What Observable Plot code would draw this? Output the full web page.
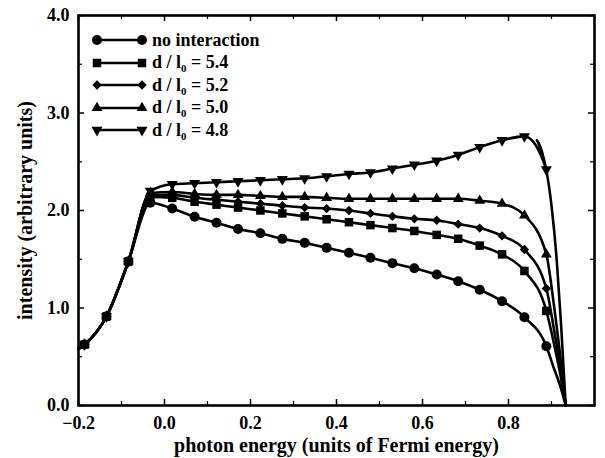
<!DOCTYPE html>
<html><head><meta charset="utf-8">
<script src="https://cdn.jsdelivr.net/npm/d3@7"></script>
<script src="https://cdn.jsdelivr.net/npm/@observablehq/plot@0.6"></script>
<style>
body{margin:0;background:#fff}
#wrap{position:relative;width:605px;height:458px;font-family:'Liberation Serif','Times New Roman',serif;font-weight:bold;color:#000}
#legend{position:absolute;left:91px;top:29px}
.row{display:flex;align-items:center;height:22.5px;font-size:18px;white-space:nowrap}
.row svg{margin-right:3px;flex:none}
.row sub{font-size:0.6em;vertical-align:-0.35em;line-height:0}
</style></head><body><div id="wrap"><div id="legend"></div></div>
<script>
// ---- data ----
const markerX = [-0.186,-0.135,-0.084,-0.033,0.018,0.07,0.121,0.171,0.223,0.274,0.326,0.377,0.429,0.479,0.53,0.581,0.633,0.683,0.733,0.785,0.837,0.888];
const yNone = [0.625,0.913,1.477,2.08,2.02,1.935,1.874,1.81,1.767,1.709,1.668,1.617,1.566,1.515,1.46,1.408,1.344,1.275,1.187,1.07,0.906,0.608];
const y54   = [0.625,0.913,1.477,2.14,2.13,2.09,2.06,2.03,2.00,1.97,1.94,1.91,1.88,1.85,1.82,1.79,1.75,1.71,1.64,1.55,1.38,0.97];
const y52   = [0.625,0.913,1.477,2.16,2.16,2.13,2.11,2.09,2.07,2.05,2.03,2.02,2.00,1.97,1.94,1.915,1.90,1.86,1.82,1.74,1.60,1.20];
const y50   = [0.625,0.913,1.477,2.18,2.19,2.17,2.16,2.16,2.15,2.14,2.14,2.13,2.12,2.12,2.12,2.12,2.12,2.12,2.10,2.07,1.95,1.55];
const y48   = [0.625,0.913,1.477,2.20,2.27,2.28,2.29,2.30,2.31,2.32,2.33,2.35,2.375,2.39,2.43,2.47,2.51,2.57,2.65,2.72,2.76,2.42];
const startX = -0.2, startY = 0.58;
const tailXNone = [0.905,0.921,0.933], tailYNone = [0.39,0.19,0];
const tailX54 = [0.905,0.92,0.933],   tailY54 = [0.65,0.33,0];
const tailX52 = [0.905,0.92,0.933],   tailY52 = [0.8,0.4,0];
const tailX50 = [0.905,0.92,0.933],   tailY50 = [1.05,0.52,0];
const tailX48 = [0.866,0.878,0.90,0.912,0.922,0.933], tailY48 = [2.72,2.6,2.05,1.5,0.85,0];
const ratios = [null, 5.4, 5.2, 5.0, 4.8];
const xTicks = [-0.2,0,0.2,0.4,0.6,0.8];
const xMinor = [-0.1,0.1,0.3,0.5,0.7,0.9];
const yTicks = [0,1,2,3,4];
const yMinor = [0.5,1.5,2.5,3.5];
const xTitle = "photon energy (units of Fermi energy)";
const yTitle = "intensity (arbitrary units)";

// ---- styling ----
const symbols = ["circle","square","diamond2","triangle","triangle"];
const rotations = [0,0,0,0,180];
const radii = [5,4.8,4.2,4,4.1];
const W = 605, H = 458, mL = 78, mR = 11, mT = 15, mB = 53;
const innerW = W - mL - mR, innerH = H - mT - mB;

const ys = [yNone,y54,y52,y50,y48];
const tails = [[tailXNone,tailYNone],[tailX54,tailY54],[tailX52,tailY52],[tailX50,tailY50],[tailX48,tailY48]];
const series = ys.map((yy,i) => {
  const pts = [{x:startX,y:startY,s:i,m:false}]
    .concat(markerX.map((x,j)=>({x,y:yy[j],s:i,m:true})))
    .concat(tails[i][0].map((x,j)=>({x,y:tails[i][1][j],s:i,m:false})));
  return pts;
});

const fmt = d3.format(".1f");
const marks = [
  Plot.frame({stroke:"black", strokeWidth:2.6}),
  Plot.ruleX(xTicks,{x:d=>d, insetTop:innerH-6, strokeWidth:1.5}),
  Plot.ruleX(xTicks,{x:d=>d, insetBottom:innerH-6, strokeWidth:1.5}),
  Plot.ruleX(xMinor,{x:d=>d, insetTop:innerH-4, strokeWidth:1.2}),
  Plot.ruleX(xMinor,{x:d=>d, insetBottom:innerH-4, strokeWidth:1.2}),
  Plot.ruleY(yTicks,{y:d=>d, insetRight:innerW-6, strokeWidth:1.5}),
  Plot.ruleY(yTicks,{y:d=>d, insetLeft:innerW-6, strokeWidth:1.5}),
  Plot.ruleY(yMinor,{y:d=>d, insetRight:innerW-4, strokeWidth:1.2}),
  Plot.ruleY(yMinor,{y:d=>d, insetLeft:innerW-4, strokeWidth:1.2}),
  Plot.axisX(xTicks,{tickSize:0, tickPadding:11, tickFormat:fmt, label:null, fontSize:18, fontWeight:"bold"}),
  Plot.axisY(yTicks,{tickSize:0, tickPadding:9, tickFormat:fmt, label:null, fontSize:18, fontWeight:"bold"}),
  Plot.text([xTitle],{text:d=>d, frameAnchor:"bottom", dy:40, fontSize:20, fontWeight:"bold", lineAnchor:"middle", textAnchor:"middle"}),
  Plot.text([yTitle],{text:d=>d, frameAnchor:"left", dx:-53, rotate:-90, fontSize:20, fontWeight:"bold", lineAnchor:"middle", textAnchor:"middle"})
];
series.forEach((pts,i) => {
  marks.push(Plot.line(pts,{x:"x", y:"y", curve:"monotone-x", stroke:"black", strokeWidth:2.6}));
  marks.push(Plot.dot(pts.filter(d=>d.m),{x:"x", y:"y", symbol:symbols[i], r:radii[i], rotate:rotations[i], fill:"black", stroke:null}));
});

const chart = Plot.plot({
  width:W, height:H, marginLeft:mL, marginRight:mR, marginTop:mT, marginBottom:mB,
  x:{domain:[-0.2,1.0]}, y:{domain:[0,4]},
  style:{fontFamily:"'Liberation Serif','Times New Roman',serif", fontWeight:"bold", fontSize:"18px", color:"black", background:"white"},
  marks
});
document.getElementById("wrap").prepend(chart);

// legend overlay
const symMap = {circle:d3.symbolCircle, square:d3.symbolSquare, diamond2:d3.symbolDiamond2, triangle:d3.symbolTriangle};
const legend = d3.select("#legend");
ratios.forEach((r,i) => {
  const row = legend.append("div").attr("class","row");
  const svg = row.append("svg").attr("width",58).attr("height",20);
  svg.append("line").attr("x1",6).attr("x2",51).attr("y1",10).attr("y2",10).attr("stroke","black").attr("stroke-width",2.6);
  const path = d3.symbol().type(symMap[symbols[i]]).size(Math.PI*radii[i]*radii[i])();
  [6,51].forEach(cx => svg.append("path").attr("d",path).attr("fill","black")
     .attr("transform",`translate(${cx},10) rotate(${rotations[i]})`));
  const span = row.append("span");
  if (r === null) span.text("no interaction");
  else span.html(`d / l<sub>0</sub> = ${r.toFixed(1)}`);
});
</script>
</body></html>
